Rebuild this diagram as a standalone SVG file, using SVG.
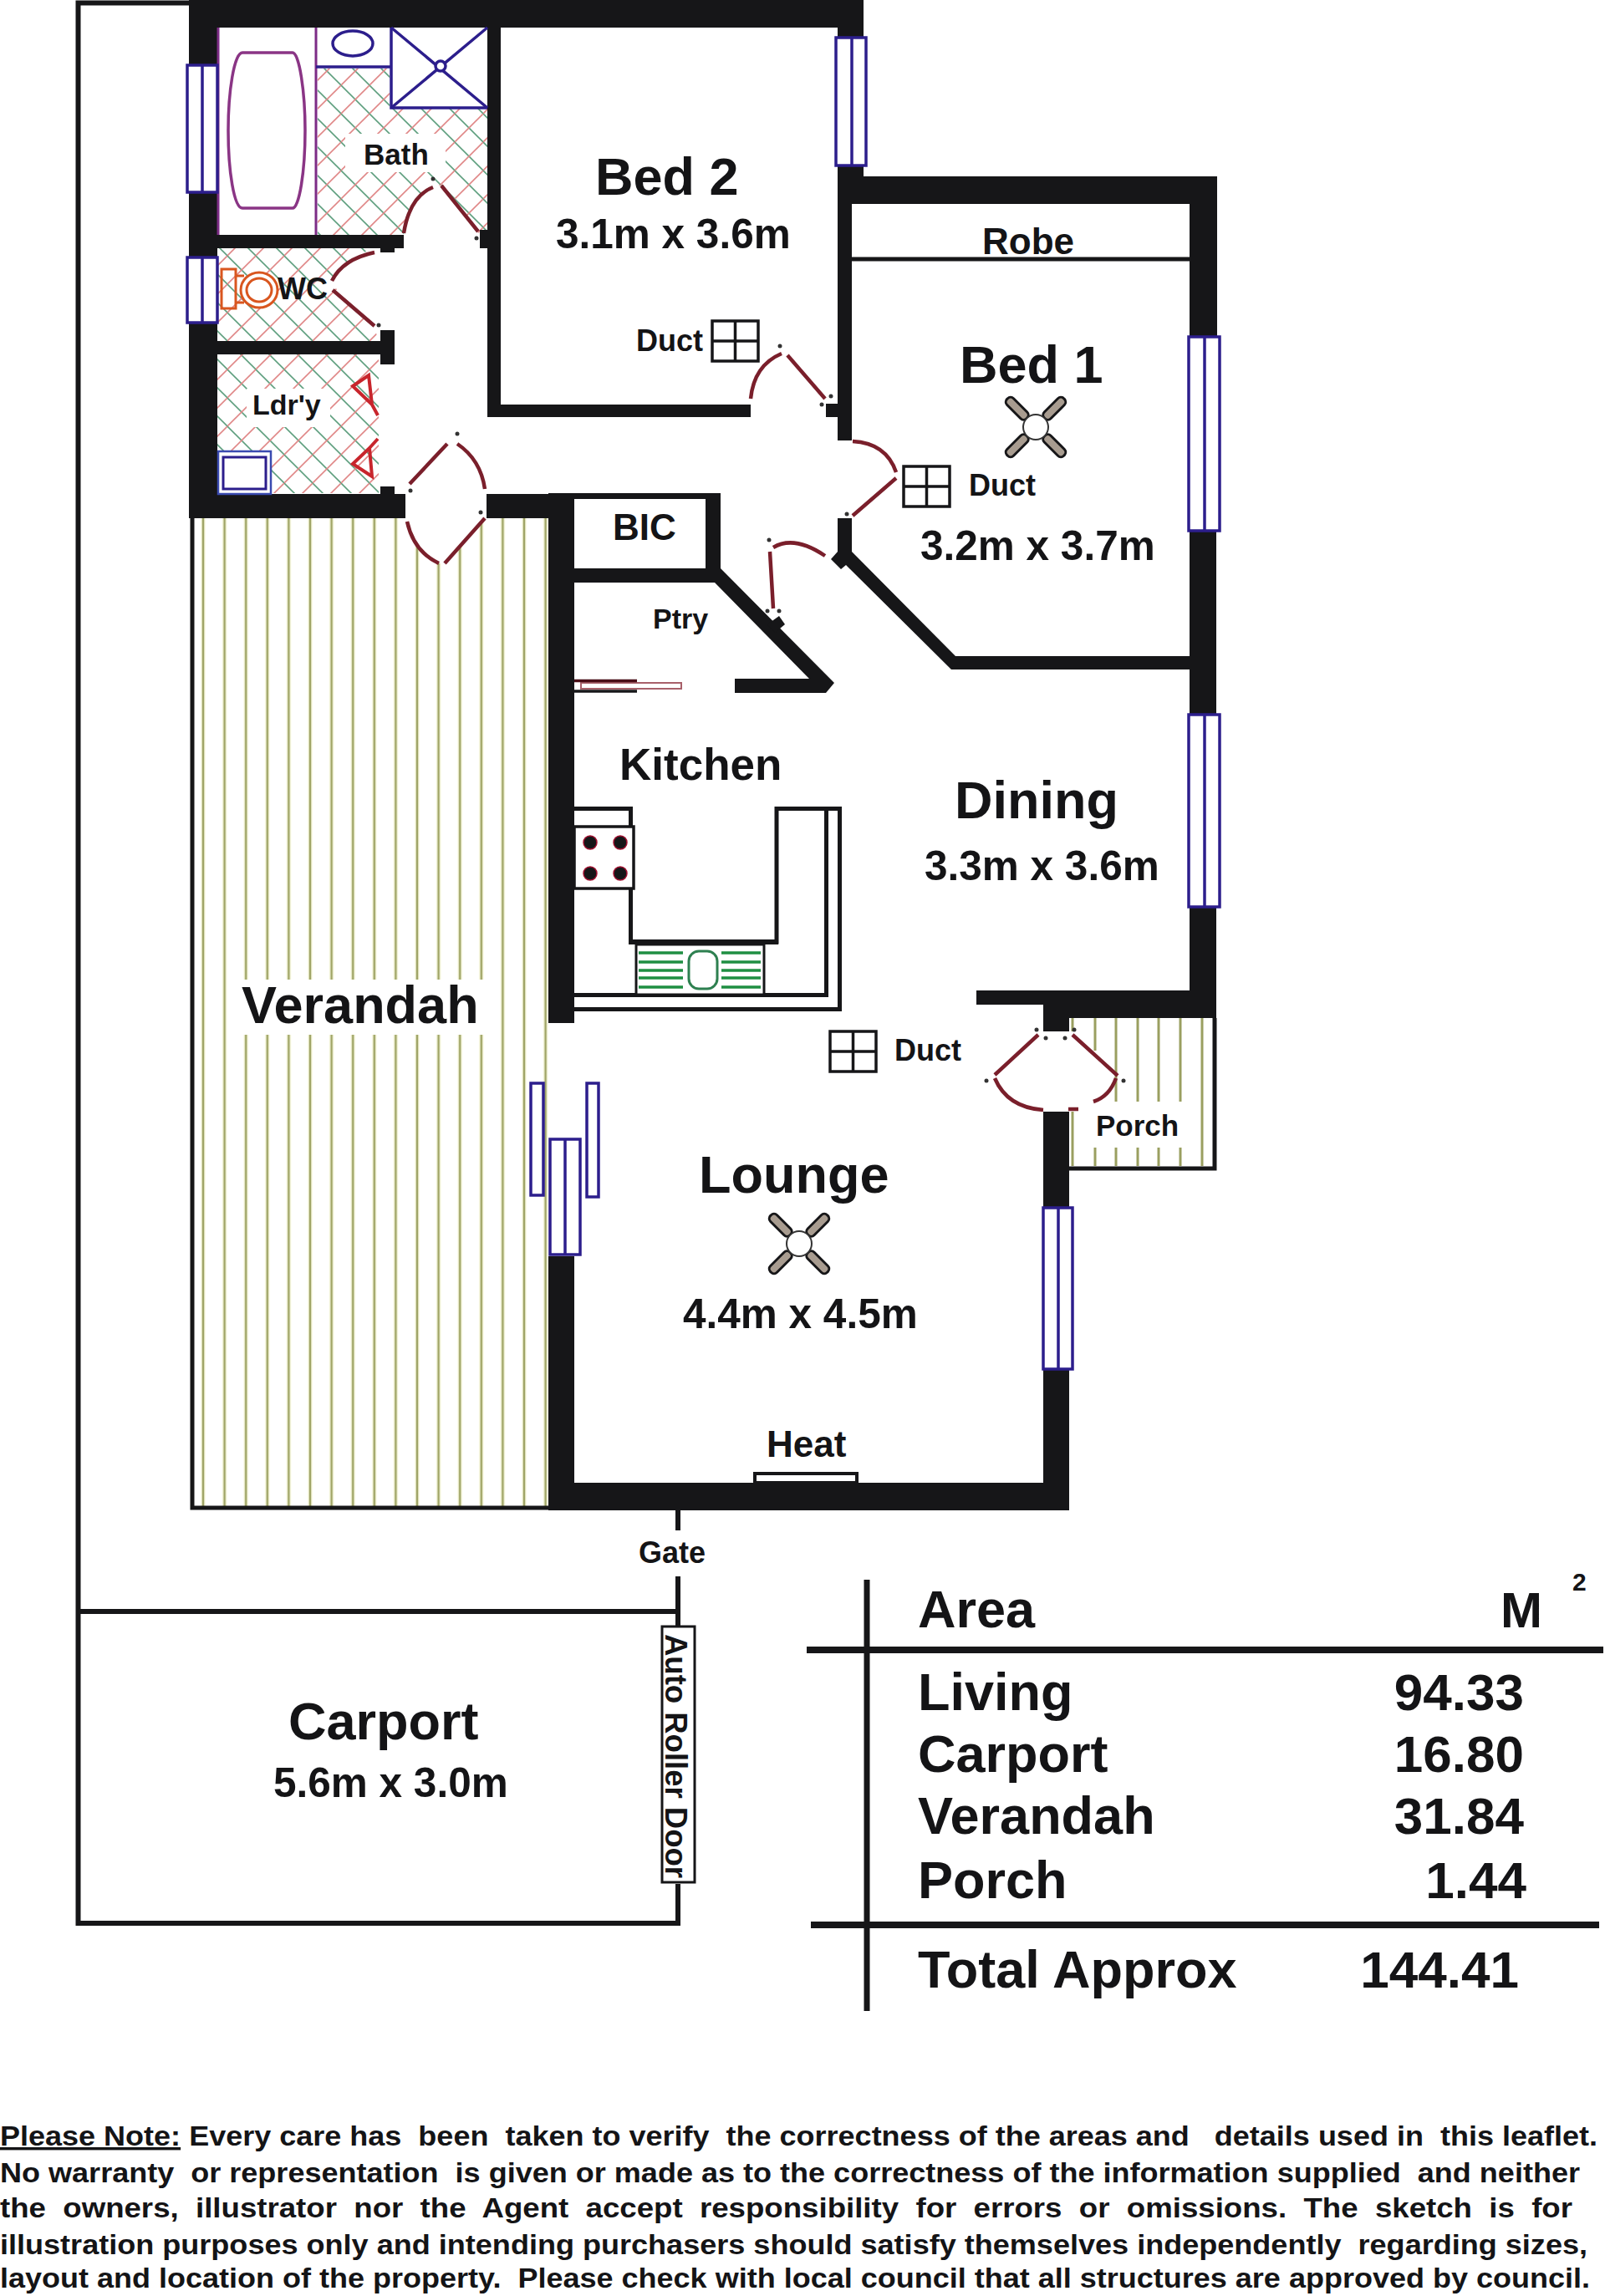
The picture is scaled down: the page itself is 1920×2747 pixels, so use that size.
<svg xmlns="http://www.w3.org/2000/svg" width="1920" height="2747" viewBox="0 0 1920 2747">
<style>
text{font-family:"Liberation Sans",Arial,sans-serif;font-weight:700;fill:#141416;white-space:pre}
.t63{font-size:63px}.t49{font-size:49.5px}.t44{font-size:44px}.t35{font-size:35px}
.wall{fill:#161618}
.win{fill:#fff;stroke:#2c1e8c;stroke-width:3.5}
.navy{fill:none;stroke:#2c1e8c;stroke-width:3.5}
.line{fill:none;stroke:#161618}
.door{fill:none;stroke:#7a1f2b;stroke-width:4.5}
.clear{fill:#fff}
.dot{fill:#333}
.duct{fill:none;stroke:#161618;stroke-width:3.5}
.olive{stroke:#9a9f60;stroke-width:3;fill:none}
.green{stroke:#1f8f42;stroke-width:3.5;fill:none}
</style>
<defs>
<pattern id="tile" patternUnits="userSpaceOnUse" width="34" height="34">
<path d="M0 0L34 34" stroke="#5f9f7f" stroke-width="1.6"/>
<path d="M0 34L34 0" stroke="#e08888" stroke-width="1.6"/>
</pattern>
<pattern id="deck" patternUnits="userSpaceOnUse" x="230.2" y="0" width="25.6" height="40">
<rect x="9.8" y="0" width="6" height="40" fill="#fbfbe6"/>
<rect x="11.5" y="0" width="2.6" height="40" fill="#a0a566"/>
</pattern>
<g id="fan">
<g fill="#a89c90" stroke="#161618" stroke-width="3">
<rect x="-5.5" y="-48" width="11" height="33" rx="5" transform="rotate(45)"/>
<rect x="-5.5" y="-48" width="11" height="33" rx="5" transform="rotate(135)"/>
<rect x="-5.5" y="-48" width="11" height="33" rx="5" transform="rotate(225)"/>
<rect x="-5.5" y="-48" width="11" height="33" rx="5" transform="rotate(315)"/>
</g>
<circle r="15" fill="#fff" stroke="#333" stroke-width="2"/>
</g>
<g id="duct">
<rect x="0" y="0" width="55" height="48" class="duct"/>
<path d="M27.5 0V48M0 24H55" class="duct"/>
</g>
</defs>
<rect width="1920" height="2747" fill="#fff"/>

<g id="verandah">
<rect x="230" y="620" width="426" height="1184" fill="url(#deck)"/>
<rect x="285" y="1172" width="295" height="66" fill="#fff"/>
<path d="M230 620V1804H656" class="line" stroke-width="5"/>
</g>

<g id="porch">
<path d="M1283 1218V1234M1283 1330V1395M1310 1218V1257M1335 1218V1318M1361 1218V1318M1386 1218V1318M1412 1218V1318M1310 1373V1395M1335 1373V1395M1361 1373V1395M1386 1373V1395M1412 1373V1395M1438 1218V1395" class="olive"/>
<path d="M1453 1218V1398H1279" class="line" stroke-width="5"/>
</g>

<g id="wet-areas">
<path id="bath-floor" d="M380 82H466V130H583V281H574L528 222H518Q490 235 483 281H380Z" fill="url(#tile)"/>
<path id="wc-floor" d="M260 297H448Q410 310 397 340L448 392L453 408H260Z" fill="url(#tile)"/>
<path id="ldry-floor" d="M260 424H453V590H260Z" fill="url(#tile)"/>
<rect x="413" y="160" width="120" height="46" fill="#fff"/>
<rect x="295" y="465" width="100" height="46" fill="#fff"/>
</g>

<g id="boundary">
<path d="M226 3.5H93.5V2301H811V2254M811 1946V1886M811 1831V1807M93.5 1928H811" class="line" stroke-width="6"/>
</g>

<g id="walls" class="wall">
<rect x="226" y="0" width="807" height="33"/>
<rect x="226" y="0" width="34" height="620"/>
<rect x="1002" y="0" width="31" height="45"/>
<rect x="1002" y="198" width="31" height="46"/>
<rect x="1002" y="198" width="17" height="329"/>
<rect x="1002" y="211" width="454" height="33"/>
<rect x="1423" y="211" width="33" height="192"/>
<rect x="1423" y="635" width="32" height="220"/>
<rect x="1423" y="1085" width="32" height="133"/>
<rect x="583" y="33" width="16" height="466"/>
<rect x="583" y="484" width="315" height="15"/>
<rect x="988" y="483" width="14" height="16"/>
<rect x="260" y="281" width="223" height="16"/>
<rect x="455" y="290" width="17" height="12"/>
<rect x="574" y="275" width="9" height="22"/>
<rect x="260" y="408" width="212" height="16"/>
<rect x="455" y="395" width="17" height="41"/>
<rect x="226" y="591" width="259" height="29"/>
<rect x="455" y="582" width="17" height="10"/>
<rect x="582" y="591" width="105" height="29"/>
<rect x="656" y="590" width="31" height="634"/>
<rect x="656" y="1503" width="31" height="304"/>
<rect x="656" y="1774" width="623" height="33"/>
<rect x="1248" y="1638" width="31" height="150"/>
<rect x="1248" y="1330" width="31" height="115"/>
<rect x="1248" y="1185" width="31" height="49"/>
<rect x="1168" y="1185" width="287" height="17"/>
<rect x="1248" y="1202" width="207" height="16"/>
<rect x="687" y="590" width="175" height="7"/>
<rect x="844" y="590" width="18" height="95"/>
<path d="M687 680H862L998 817L988 829H879V812H968L855 697H687Z"/>
<path d="M932 737L939 747L927 757L918 747Z"/>
<path d="M1002 620H1019V660L1143 785H1423V801H1138L1012 676L1006 681L994 669L1002 660Z"/>
</g>

<g id="bathroom-fittings">
<path d="M261 33V281M378 33V281" fill="none" stroke="#7d2c86" stroke-width="3"/>
<path d="M378 80H468" class="navy"/>
<path d="M290 63C280 63 273 110 273 156C273 205 280 249 290 249H350C358 249 365 205 365 156C365 110 358 63 350 63Z" fill="#fff" stroke="#8a3585" stroke-width="3.5"/>
<ellipse cx="422" cy="52" rx="24" ry="15" class="navy"/>
<path d="M468 33V129H583" fill="#fff" stroke="#2c1e8c" stroke-width="3.5"/>
<path d="M468 33L583 129M583 33L468 129" class="navy"/>
<circle cx="527" cy="79" r="6" fill="#fff" stroke="#2c1e8c" stroke-width="3.5"/>
</g>

<g id="toilet" fill="none" stroke="#d9561f" stroke-width="3">
<rect x="265" y="322" width="17" height="47"/>
<path d="M282 330H292M282 362H292"/>
<ellipse cx="310" cy="347" rx="22" ry="21" fill="#fff"/>
<ellipse cx="310" cy="347" rx="15" ry="14"/>
</g>

<g id="washer">
<rect x="261" y="540" width="63" height="51" fill="#fff" stroke="#3a4ab0" stroke-width="2.5"/>
<rect x="267" y="547" width="51" height="38" fill="#fff" stroke="#2c1e8c" stroke-width="3"/>
</g>

<g id="kitchen">
<path d="M687 967.5H754.5V1127H929V967.5H1004.5V1207.5H687" class="line" stroke-width="5"/>
<path d="M988.5 967.5V1190.5H687" class="line" stroke-width="5"/>
<path d="M752 1127H931" class="line" stroke-width="6"/>
<rect x="687" y="989" width="71" height="74" fill="#fff" stroke="#161618" stroke-width="3.5"/>
<g fill="#161618" stroke="#a01030" stroke-width="1.5">
<circle cx="706" cy="1008" r="8"/><circle cx="742" cy="1008" r="8"/>
<circle cx="706" cy="1045" r="8"/><circle cx="742" cy="1045" r="8"/>
</g>
<rect x="761" y="1130" width="153" height="60" fill="#fff" stroke="#161618" stroke-width="3"/>
<path d="M764 1140H817M764 1151H817M764 1161H817M764 1170H817M764 1181H817M863 1140H910M863 1151H910M863 1161H910M863 1170H910M863 1181H910" class="green"/>
<rect x="824" y="1138" width="34" height="45" rx="12" fill="#fff" stroke="#2e8050" stroke-width="3"/>
</g>

<g id="pantry-slider">
<rect x="695" y="817" width="120" height="7" fill="#fff" stroke="#a8606a" stroke-width="2"/>
<path d="M687 814.5H762" stroke="#4a0f18" stroke-width="3.5"/>
<path d="M687 827H762" stroke="#161618" stroke-width="3.5"/>
</g>

<g id="windows">
<g id="w1"><rect x="224" y="78" width="36" height="152" class="win"/><path d="M242 78V230" class="navy"/></g>
<g id="w2"><rect x="224" y="308" width="36" height="78" class="win"/><path d="M242 308V386" class="navy"/></g>
<g id="w3"><rect x="1000" y="45" width="36" height="153" class="win"/><path d="M1019 45V198" class="navy"/></g>
<g id="w4"><rect x="1422" y="403" width="37" height="232" class="win"/><path d="M1441 403V635" class="navy"/></g>
<g id="w5"><rect x="1422" y="855" width="37" height="230" class="win"/><path d="M1441 855V1085" class="navy"/></g>
<g id="w6"><rect x="1248" y="1445" width="35" height="193" class="win"/><path d="M1266 1445V1638" class="navy"/></g>
<g id="slider">
<rect x="635" y="1296" width="15" height="134" class="win"/>
<rect x="702" y="1296" width="14" height="136" class="win"/>
<rect x="658" y="1363" width="36" height="138" class="win"/>
<path d="M676 1363V1501" class="navy"/>
</g>
</g>

<g id="heater">
<rect x="903" y="1763" width="122" height="11" fill="#fff" stroke="#161618" stroke-width="4"/>
</g>

<g id="doors">
<path class="clear" d="M487 620Q495 660 525 674H532L580 620Z"/>
<path class="door" d="M483 279Q490 235 518 224M528 222L572 277"/>
<path class="door" d="M448 302Q410 310 397 336M398 347L448 390"/>
<path class="door" d="M490 579L535 531M547 531Q575 550 580 585M580 620L532 674M487 624Q495 660 525 674"/>
<path class="door" d="M898 477Q902 437 935 423M942 425L987 477"/>
<path class="door" d="M1020 528Q1060 530 1072 565M1072 572L1020 617"/>
<path class="door" d="M925 655Q950 640 987 665M921 660L925 728"/>
<path class="door" d="M1242 1238L1190 1286M1190 1290Q1205 1325 1248 1328M1283 1238L1337 1287M1335 1290Q1327 1312 1308 1318M1278 1327H1290"/>
<g fill="none" stroke="#c8252c" stroke-width="4">
<path d="M422 462L441 449L445 484ZM445 484L452 497"/>
<path d="M422 555L442 536L445 570ZM442 536L452 525"/>
</g>
<g class="dot">
<circle cx="518" cy="214" r="2.5"/><circle cx="570" cy="285" r="2.5"/><circle cx="453" cy="389" r="2.5"/>
<circle cx="491" cy="587" r="2.5"/><circle cx="547" cy="519" r="2.5"/><circle cx="575" cy="613" r="2.5"/>
<circle cx="933" cy="414" r="2.5"/><circle cx="994" cy="474" r="2.5"/><circle cx="983" cy="484" r="2.5"/>
<circle cx="920" cy="646" r="2.5"/><circle cx="918" cy="731" r="2.5"/><circle cx="932" cy="731" r="2.5"/>
<circle cx="1013" cy="615" r="2.5"/><circle cx="1180" cy="1293" r="2.5"/><circle cx="1344" cy="1293" r="2.5"/>
<circle cx="1240" cy="1232" r="2.5"/><circle cx="1285" cy="1232" r="2.5"/><circle cx="1251" cy="1242" r="2.5"/><circle cx="1274" cy="1242" r="2.5"/>
</g>
</g>

<g id="ducts">
<use href="#duct" x="852" y="384"/>
<use href="#duct" x="1081" y="558"/>
<use href="#duct" x="993" y="1234"/>
</g>

<g id="fans">
<use href="#fan" x="1239" y="511"/>
<use href="#fan" x="956" y="1488"/>
</g>

<g id="robe-line"><path d="M1019 310H1423" class="line" stroke-width="5"/></g>

<g id="roller-door">
<rect x="792" y="1946" width="39" height="306" fill="#fff" stroke="#161618" stroke-width="3"/>
<text transform="translate(796 1955) rotate(90)" font-size="36.5">Auto Roller Door</text>
</g>

<g id="labels">
<text x="712" y="233" class="t63">Bed 2</text>
<text x="665" y="297" class="t49">3.1m x 3.6m</text>
<text x="761" y="420" font-size="36">Duct</text>
<text x="1175" y="304" class="t44">Robe</text>
<text x="1148" y="458" class="t63">Bed 1</text>
<text x="1159" y="593" font-size="36">Duct</text>
<text x="1101" y="670" class="t49">3.2m x 3.7m</text>
<text x="435" y="197" class="t35">Bath</text>
<text x="332" y="358" font-size="36">WC</text>
<text x="302" y="496" font-size="34">Ldr'y</text>
<text x="733" y="646" font-size="44">BIC</text>
<text x="781" y="752" font-size="34">Ptry</text>
<text x="741" y="933" font-size="53">Kitchen</text>
<text x="1142" y="979" class="t63">Dining</text>
<text x="1106" y="1053" class="t49">3.3m x 3.6m</text>
<text x="289" y="1224" class="t63">Verandah</text>
<text x="1070" y="1269" font-size="36">Duct</text>
<text x="1311" y="1359" class="t35">Porch</text>
<text x="836" y="1427" class="t63">Lounge</text>
<text x="817" y="1589" class="t49">4.4m x 4.5m</text>
<text x="917" y="1743" class="t44">Heat</text>
<text x="764" y="1870" font-size="36">Gate</text>
<text x="345" y="2081" class="t63">Carport</text>
<text x="327" y="2150" class="t49">5.6m x 3.0m</text>
</g>

<g id="area-table">
<path d="M1037 1890V2406" class="line" stroke-width="7"/>
<path d="M965 1974H1918M970 2303H1913" class="line" stroke-width="8"/>
<text x="1098" y="1947" class="t63">Area</text>
<text x="1795" y="1947" font-size="60">M</text>
<text x="1881" y="1903" font-size="30">2</text>
<text x="1098" y="2046" class="t63">Living</text>
<text x="1098" y="2120" class="t63">Carport</text>
<text x="1098" y="2194" class="t63">Verandah</text>
<text x="1098" y="2271" class="t63">Porch</text>
<text x="1098" y="2378" class="t63">Total Approx</text>
<g text-anchor="end">
<text x="1823" y="2046" font-size="62" text-anchor="end">94.33</text>
<text x="1823" y="2120" font-size="62" text-anchor="end">16.80</text>
<text x="1823" y="2194" font-size="62" text-anchor="end">31.84</text>
<text x="1826" y="2271" font-size="62" text-anchor="end">1.44</text>
<text x="1817" y="2378" font-size="62" text-anchor="end">144.41</text>
</g>
</g>

<g id="note" font-size="34">
<text x="0" y="2567" textLength="1911" lengthAdjust="spacingAndGlyphs"><tspan text-decoration="underline">Please Note:</tspan> Every care has  been  taken to verify  the correctness of the areas and   details used in  this leaflet.</text>
<text x="0" y="2611" textLength="1890" lengthAdjust="spacingAndGlyphs">No warranty  or representation  is given or made as to the correctness of the information supplied  and neither</text>
<text x="0" y="2653" textLength="1881" lengthAdjust="spacingAndGlyphs">the  owners,  illustrator  nor  the  Agent  accept  responsibility  for  errors  or  omissions.  The  sketch  is  for</text>
<text x="0" y="2697" textLength="1899" lengthAdjust="spacingAndGlyphs">illustration purposes only and intending purchasers should satisfy themselves independently  regarding sizes,</text>
<text x="0" y="2737" textLength="1902" lengthAdjust="spacingAndGlyphs">layout and location of the property.  Please check with local council that all structures are approved by council.</text>
</g>
</svg>
